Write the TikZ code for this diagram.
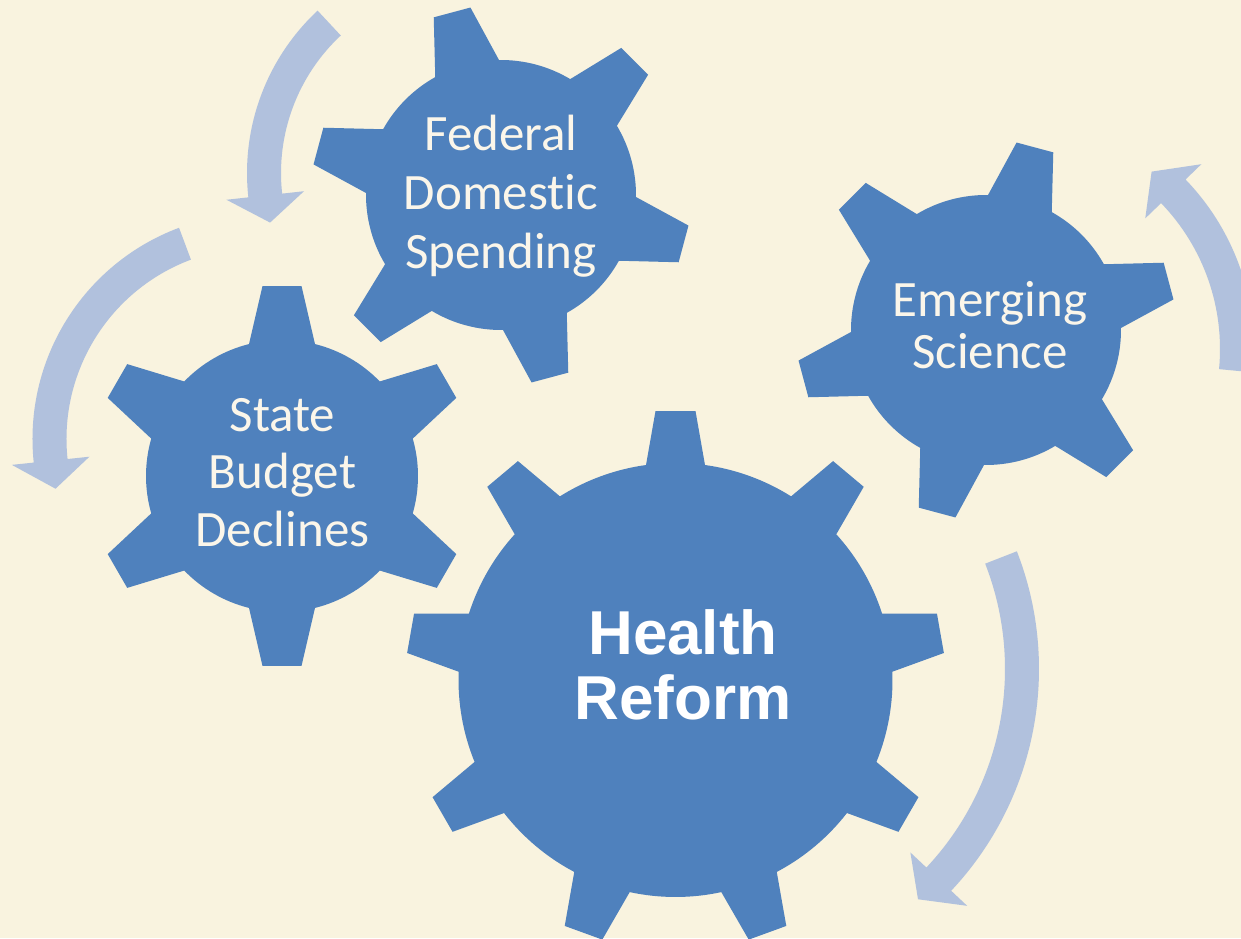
\documentclass[tikz,border=0pt]{standalone}
\usepackage{fontspec}
\setmainfont{Carlito}[RawFeature={-liga}]
\newfontfamily\headfont{Liberation Sans}
\usetikzlibrary{calc}

\definecolor{paper}{HTML}{F9F3DF}
\definecolor{gearblue}{HTML}{4F81BD}
\definecolor{arrowblue}{HTML}{B1C1DD}
\definecolor{gearlabel}{HTML}{FBF6EA}

% Gear outline: #1 centre, #2 teeth, #3 angle of first tooth,
% #4 body radius, #5 tip radius, #6 tip half width, #7 root half width
\newcommand{\gearshape}[7]{%
  \pgfmathsetmacro{\gstep}{360/#2}%
  \pgfmathsetmacro{\ga}{asin(#7/#4)}%
  \pgfmathsetmacro{\gb}{atan(#6/#5)}%
  \pgfmathsetmacro{\gR}{veclen(#5,#6)}%
  \fill[gearblue,shift={(#1)}] ({#3-\ga}:#4)
    \foreach \k in {1,...,#2}{
      -- ({#3+(\k-1)*\gstep-\gb}:\gR)
      -- ({#3+(\k-1)*\gstep+\gb}:\gR)
      -- ({#3+(\k-1)*\gstep+\ga}:#4)
      arc[start angle={#3+(\k-1)*\gstep+\ga}, end angle={#3+\k*\gstep-\ga}, radius=#4]
    } -- cycle;
}

% Curved block arrow: #1 centre, #2 mid radius, #3 tail angle,
% #4 angle where the head starts, #5 angle of the tip
\newcommand{\bentarrow}[5]{%
  \pgfmathsetmacro{\ro}{#2+17}%
  \pgfmathsetmacro{\ri}{#2-17}%
  \pgfmathsetmacro{\ho}{#2+39}%
  \pgfmathsetmacro{\hi}{#2-39}%
  \fill[arrowblue,shift={(#1)}] (#3:\ro)
    arc[start angle=#3, end angle=#4, radius=\ro]
    -- (#4:\ho) -- (#5:#2) -- (#4:\hi) -- (#4:\ri)
    arc[start angle=#4, end angle=#3, radius=\ri] -- cycle;
}

\tikzset{
  smalllabel/.style={text=gearlabel, align=center, inner sep=0pt},
  biglabel/.style={text=white, align=center, inner sep=0pt,
    font=\headfont\bfseries\fontsize{62}{65}\selectfont},
}

\begin{document}
\begin{tikzpicture}[x=1pt,y=1pt]
  \useasboundingbox (0,0) rectangle (1241,938);
  \fill[paper] (0,0) rectangle (1241,938);
  \clip (0,0) rectangle (1241,938);

  % centres of the turning arrows
  \coordinate (arcFed) at (469,765);
  \coordinate (arcSta) at (258,499);
  \coordinate (arcSci) at (1010,589);
  \coordinate (arcHr)  at (715,269);

  \bentarrow{arcFed}{205}{133}{186.3}{194}
  \bentarrow{arcSta}{208.5}{110.5}{186}{193.8}
  \bentarrow{arcSci}{227}{-5.5}{44}{51.4}
  \bentarrow{arcHr}{307}{21.3}{-43.2}{-48.6}

  % gear centres
  \coordinate (fedC) at (501,743);
  \coordinate (sciC) at (986,608);
  \coordinate (staC) at (282,462);
  \coordinate (hrC)  at (675.5,258);

  \gearshape{fedC}{6}{45}{135}{189}{19}{33}
  \gearshape{sciC}{6}{15}{135}{189}{19}{33}
  \gearshape{staC}{6}{30}{136}{190}{19.5}{33}
  \gearshape{hrC}{9}{10}{217}{269}{20}{29.5}

  \node[smalllabel, font=\fontsize{51}{59}\selectfont] (fed) at (501,742)
    {Federal\\Domestic\\Spending};
  \node[smalllabel, font=\fontsize{51}{51.6}\selectfont] (sci) at (990,613)
    {Emerging\\Science};
  \node[smalllabel, font=\fontsize{51}{57.5}\selectfont] (sta) at (282.5,465.5)
    {State\\Budget\\Declines};
  \node[biglabel] (hr) at (683,273) {Health\\Reform};
\end{tikzpicture}
\end{document}
